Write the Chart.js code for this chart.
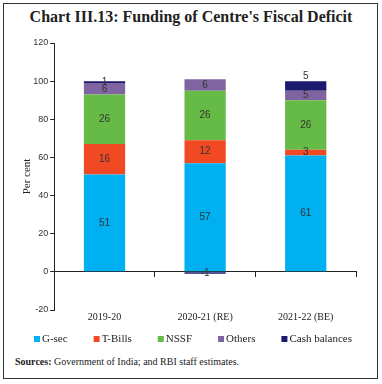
<!DOCTYPE html>
<html><head><meta charset="utf-8">
<script src="https://cdn.jsdelivr.net/npm/chart.js@4"></script>
<style>
html,body{margin:0;padding:0;background:#fff;}
#frame{position:absolute;left:3px;top:3px;width:373px;height:374px;border:1.5px solid #333;}
#title{position:absolute;left:0;top:8px;width:382px;text-align:center;font:bold 16px "Liberation Serif",serif;color:#222;}
#wrap{position:absolute;left:0;top:30px;width:382px;height:322px;}
#src{position:absolute;left:15px;top:356px;font:10px "Liberation Serif",serif;color:#222;}
</style></head><body>
<div id="frame"></div>
<div id="title">Chart III.13: Funding of Centre's Fiscal Deficit</div>
<div id="wrap"><canvas id="c" width="382" height="322"></canvas></div>
<div id="src"><b>Sources:</b> Government of India; and RBI staff estimates.</div>
<script>
const categories = ["2019-20", "2020-21 (RE)", "2021-22 (BE)"];
const gsec = [51, 57, 61];
const tbills = [16, 12, 3];
const nssf = [26, 26, 26];
const others = [6, 6, 5];
const cash = [1, -1, 5];
const yTicks = [-20, 0, 20, 40, 60, 80, 100, 120];

const labelPlugin = {
  id: 'segLabels',
  afterDatasetsDraw(chart) {
    const ctx = chart.ctx;
    ctx.save();
    ctx.font = '10px "Liberation Sans", sans-serif';
    ctx.fillStyle = '#333';
    ctx.textAlign = 'center';
    ctx.textBaseline = 'middle';
    chart.data.datasets.forEach((ds, i) => {
      const meta = chart.getDatasetMeta(i);
      meta.data.forEach((el, j) => {
        const v = ds.data[j];
        let y = (el.y + el.base) / 2;
        if (ds.label === 'Cash balances' && v >= 3) y = el.y - 5;
        ctx.fillText(String(v), el.x, y);
      });
    });
    ctx.restore();
  }
};

const legendPlugin = {
  id: 'customLegend',
  afterDraw(chart) {
    const ctx = chart.ctx;
    ctx.save();
    ctx.font = '11px "Liberation Serif", serif';
    ctx.textBaseline = 'middle';
    const box = 6, gapText = 2, gapItem = 26;
    const items = chart.data.datasets.map(ds => ({t: ds.label, c: ds.backgroundColor, w: ctx.measureText(ds.label).width}));
    let total = 0;
    items.forEach((it, i) => { total += box + gapText + it.w + (i < items.length - 1 ? gapItem : 0); });
    let x = 193 - total / 2;
    const y = 309;
    items.forEach(it => {
      ctx.fillStyle = it.c;
      ctx.fillRect(x, y - box / 2, box, box);
      ctx.fillStyle = '#222';
      ctx.fillText(it.t, x + box + gapText, y);
      x += box + gapText + it.w + gapItem;
    });
    ctx.restore();
  }
};

new Chart(document.getElementById('c'), {
  type: 'bar',
  data: {
    labels: categories,
    datasets: [
      {label: 'G-sec', data: gsec, backgroundColor: '#00B0F0'},
      {label: 'T-Bills', data: tbills, backgroundColor: '#F04923'},
      {label: 'NSSF', data: nssf, backgroundColor: '#66BB46'},
      {label: 'Others', data: others, backgroundColor: '#8064A2'},
      {label: 'Cash balances', data: cash, backgroundColor: '#1A1A6E'}
    ]
  },
  options: {
    responsive: false,
    animation: false,
    categoryPercentage: 1,
    barPercentage: 0.41,
    layout: {padding: {left: 21, right: 26, top: 13, bottom: 28}},
    plugins: {
      legend: {display: false},
      tooltip: {enabled: false}
    },
    scales: {
      x: {
        stacked: true,
        position: {y: 0},
        grid: {display: true, drawOnChartArea: false, offset: true, tickLength: 5, color: '#222'},
        border: {color: '#222', width: 1},
        ticks: {display: false}
      },
      x2: {
        type: 'category',
        labels: categories,
        position: 'bottom',
        grid: {display: false, drawTicks: false},
        border: {display: false},
        ticks: {color: '#222', font: {family: '"Liberation Serif", serif', size: 10}, padding: 1}
      },
      y: {
        stacked: true,
        min: -20, max: 120,
        afterBuildTicks: (s) => { s.ticks = yTicks.map(v => ({value: v})); },
        grid: {display: true, drawOnChartArea: false, tickLength: 4, color: '#222'},
        border: {color: '#222', width: 1},
        ticks: {color: '#333', font: {family: '"Liberation Sans", sans-serif', size: 9}, padding: 2},
        title: {display: true, text: 'Per cent', color: '#222',
          font: {family: '"Liberation Serif", serif', size: 11}, padding: {top: 0, bottom: -3}}
      }
    }
  },
  plugins: [labelPlugin, legendPlugin]
});
</script>
</body></html>
